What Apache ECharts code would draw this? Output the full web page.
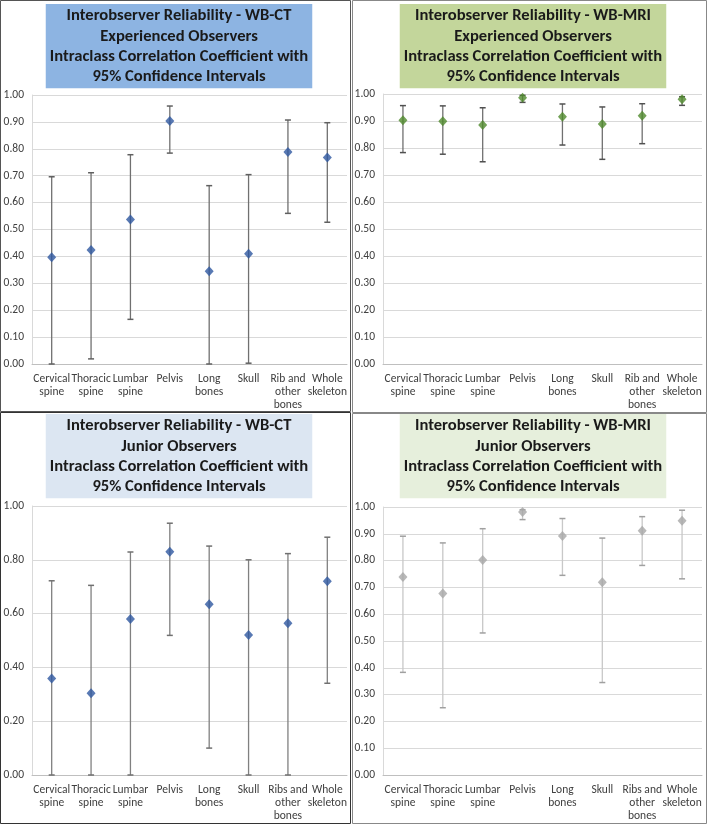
<!DOCTYPE html>
<html><head><meta charset="utf-8">
<script src="https://cdn.jsdelivr.net/npm/echarts@6/dist/echarts.min.js"></script>
<style>html,body{margin:0;padding:0;background:#fff}#c{width:708px;height:825px}</style>
</head><body><div id="c"></div>
<script>
var catsA = ["Cervical\nspine","Thoracic\nspine","Lumbar\nspine","Pelvis","Long\nbones","Skull","Rib and\nother\nbones","Whole\nskeleton"];
var catsB = ["Cervical\nspine","Thoracic\nspine","Lumbar\nspine","Pelvis","Long\nbones","Skull","Ribs and\nother\nbones","Whole\nskeleton"];

var ctExpIcc = [0.397,0.424,0.537,0.903,0.345,0.410,0.788,0.768];
var ctExpLow = [0.000,0.019,0.166,0.784,0.000,0.003,0.560,0.527];
var ctExpHigh= [0.696,0.711,0.778,0.959,0.663,0.704,0.907,0.897];

var mriExpIcc = [0.903,0.899,0.885,0.986,0.916,0.889,0.919,0.981];
var mriExpLow = [0.783,0.777,0.749,0.969,0.811,0.758,0.816,0.958];
var mriExpHigh= [0.957,0.956,0.949,0.995,0.963,0.952,0.964,0.990];

var ctJunIcc = [0.359,0.304,0.580,0.830,0.635,0.520,0.564,0.720];
var ctJunLow = [0.000,0.000,0.000,0.519,0.100,0.000,0.000,0.341];
var ctJunHigh= [0.722,0.705,0.829,0.936,0.851,0.800,0.823,0.884];

var mriJunIcc = [0.739,0.677,0.802,0.981,0.892,0.719,0.911,0.949];
var mriJunLow = [0.383,0.251,0.530,0.953,0.745,0.345,0.782,0.732];
var mriJunHigh= [0.891,0.866,0.919,0.990,0.957,0.884,0.964,0.988];

var titles = [
 "Interobserver Reliability - WB-CT\nExperienced Observers\nIntraclass Correlation Coefficient with\n95% Confidence Intervals",
 "Interobserver Reliability - WB-MRI\nExperienced Observers\nIntraclass Correlation Coefficient with\n95% Confidence Intervals",
 "Interobserver Reliability - WB-CT\nJunior Observers\nIntraclass Correlation Coefficient with\n95% Confidence Intervals",
 "Interobserver Reliability - WB-MRI\nJunior Observers\nIntraclass Correlation Coefficient with\n95% Confidence Intervals"
];

var FONT = "Carlito, Lato, 'Liberation Sans', sans-serif";
var panels = [
 {cats:catsA, icc:ctExpIcc, low:ctExpLow, high:ctExpHigh, interval:0.1, grid:{left:32,top:95,width:315,height:269}, title:{x:175,y:4,bg:'#8DB4E2'}, marker:'#2E58A0', bar:'#707070', cap:'#606060'},
 {cats:catsA, icc:mriExpIcc, low:mriExpLow, high:mriExpHigh, interval:0.1, grid:{left:383,top:94,width:319,height:270}, title:{x:529,y:4,bg:'#C3D69B'}, marker:'#4F8A2C', bar:'#707070', cap:'#505050'},
 {cats:catsB, icc:ctJunIcc, low:ctJunLow, high:ctJunHigh, interval:0.2, grid:{left:32,top:506,width:315,height:269}, title:{x:175,y:414,bg:'#DCE6F2'}, marker:'#2E58A0', bar:'#808080', cap:'#707070'},
 {cats:catsB, icc:mriJunIcc, low:mriJunLow, high:mriJunHigh, interval:0.1, grid:{left:383,top:507,width:319,height:268}, title:{x:529,y:414,bg:'#E6EFDC'}, marker:'#A6A6A6', bar:'#C8C8C8', cap:'#A0A0A0'}
];

var option = {animation:false, backgroundColor:'#fff', title:[], grid:[], xAxis:[], yAxis:[], series:[], graphic:[]};

panels.forEach(function(p, i){
  option.title.push({
    text: titles[i], left: p.title.x, top: p.title.y, textAlign:'center',
    backgroundColor: p.title.bg, padding:[2,4,1,4],
    textStyle:{fontFamily:FONT, fontSize:16.6, fontWeight:'bold', color:'#1a1a1a', lineHeight:20.3}
  });
  option.grid.push({left:p.grid.left, top:p.grid.top, width:p.grid.width, height:p.grid.height, containLabel:false});
  option.xAxis.push({
    type:'category', gridIndex:i, data:p.cats,
    axisLine:{lineStyle:{color:'#BFBFBF'}}, axisTick:{show:false},
    axisLabel:{interval:0, fontFamily:FONT, fontSize:11.5, color:'#404040', lineHeight:13, margin:9}
  });
  option.yAxis.push({
    type:'value', gridIndex:i, min:0, max:1, interval:p.interval,
    axisLine:{show:true, lineStyle:{color:'#D9D9D9'}}, axisTick:{show:false},
    splitLine:{lineStyle:{color:'#D9D9D9'}},
    axisLabel:{fontFamily:FONT, fontSize:11.5, color:'#404040', margin:8, formatter:function(v){return v.toFixed(2);}}
  });
  var ebData = p.cats.map(function(c, k){ return [k, p.low[k], p.high[k]]; });
  option.series.push({
    type:'custom', xAxisIndex:i, yAxisIndex:i, data:ebData, z:2,
    renderItem:function(params, api){
      var x = api.value(0);
      var lo = api.coord([x, api.value(1)]);
      var hi = api.coord([x, api.value(2)]);
      var hw = 3;
      return {type:'group', children:[
        {type:'line', shape:{x1:lo[0], y1:lo[1], x2:hi[0], y2:hi[1]}, style:{stroke:p.bar, lineWidth:1.3}},
        {type:'line', shape:{x1:hi[0]-hw, y1:hi[1], x2:hi[0]+hw, y2:hi[1]}, style:{stroke:p.cap, lineWidth:1.5}},
        {type:'line', shape:{x1:lo[0]-hw, y1:lo[1], x2:lo[0]+hw, y2:lo[1]}, style:{stroke:p.cap, lineWidth:1.5}}
      ]};
    }
  });
  option.series.push({
    type:'scatter', xAxisIndex:i, yAxisIndex:i, data:p.icc, symbol:'diamond', symbolSize:[9,10], z:3,
    itemStyle:{color:p.marker}
  });
});

// panel frames
option.graphic = [
  {type:'rect', shape:{x:0.5,y:0.5,width:350,height:411}, style:{fill:null, stroke:'#555', lineWidth:1}, silent:true},
  {type:'rect', shape:{x:352.5,y:0.5,width:354,height:412}, style:{fill:null, stroke:'#888', lineWidth:1}, silent:true},
  {type:'rect', shape:{x:0.5,y:412.5,width:350,height:411}, style:{fill:null, stroke:'#333', lineWidth:1}, silent:true},
  {type:'rect', shape:{x:352.5,y:413.5,width:354,height:410}, style:{fill:null, stroke:'#888', lineWidth:1}, silent:true}
];

var chart = echarts.init(document.getElementById('c'), null, {renderer:'canvas'});
chart.setOption(option);
</script></body></html>
